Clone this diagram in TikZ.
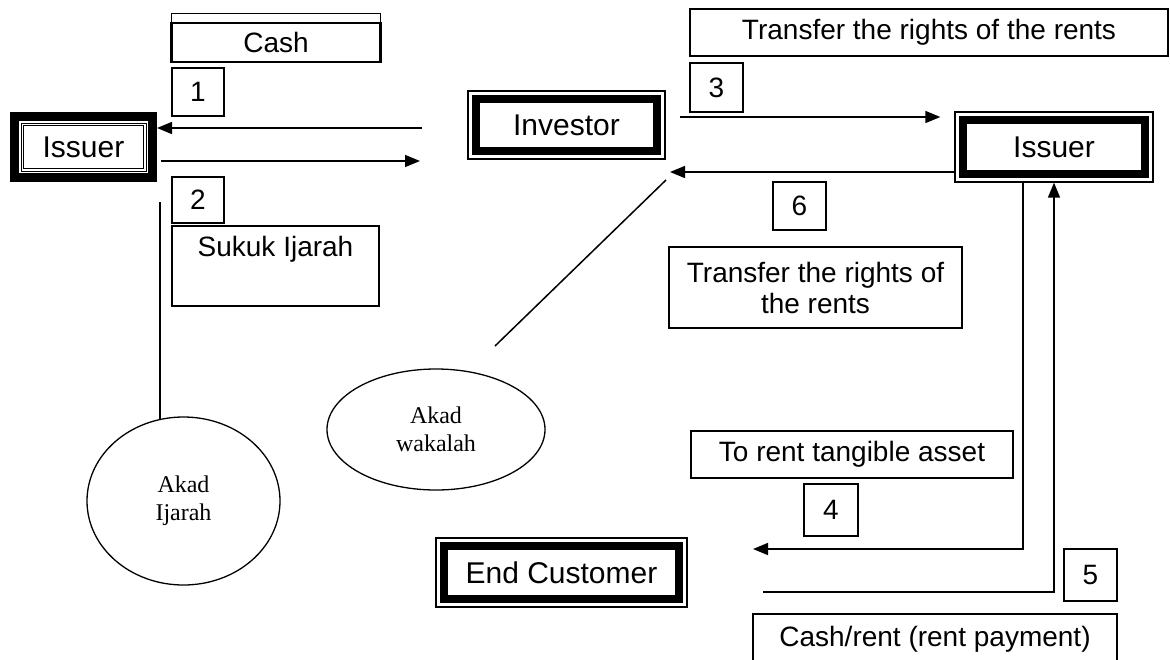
\documentclass[tikz,border=0pt]{standalone}
\usepackage{fontspec}
\setmainfont{Liberation Sans}
\newfontfamily\serifnr{Liberation Serif}
\usetikzlibrary{arrows.meta,shapes.geometric}
\newcommand\labsize{\fontsize{28}{31}\selectfont}
\newcommand\entsize{\fontsize{30}{34}\selectfont}
\newcommand\akadsize{\serifnr\fontsize{24}{28}\selectfont}
\begin{document}
\begin{tikzpicture}[x=1pt,y=-1pt,
  lbl/.style={draw, line width=1.3pt, inner sep=0pt, font=\labsize, align=center},
  entthin/.style={draw, line width=1.3pt, inner sep=0pt, font=\entsize,
    path picture={\draw[line width=8pt] ([shift={(8pt,-8pt)}]path picture bounding box.north west) rectangle ([shift={(-8pt,8pt)}]path picture bounding box.south east);}},
  entthick/.style={draw, line width=9pt, inner sep=0pt, font=\entsize,
    path picture={\draw[line width=0.9pt] ([shift={(6.5pt,-6.5pt)}]path picture bounding box.north west) rectangle ([shift={(-6.5pt,6.5pt)}]path picture bounding box.south east);
      \draw[line width=0.9pt] ([shift={(9pt,-9pt)}]path picture bounding box.north west) rectangle ([shift={(-9pt,9pt)}]path picture bounding box.south east);}},
  akad/.style={draw, ellipse, line width=1.3pt, inner sep=0pt, font=\akadsize, align=center},
  conn/.style={line width=1.5pt},
  arr/.style={conn, -{Triangle[length=15pt,width=12pt]}}
]
\useasboundingbox (0,0) rectangle (1170,659);
\clip (0,0) rectangle (1170,659);
\fill[white] (0,0) rectangle (1170,659);

% entities
\node[entthick, minimum width=138pt, minimum height=61pt] (lis) at (83.5,147) {Issuer};
\node[entthin, minimum width=197pt, minimum height=68pt] (inv) at (566.5,125) {Investor};
\node[entthin, minimum width=198pt, minimum height=70pt] (ris) at (1054,147) {Issuer};
\node[entthin, minimum width=251pt, minimum height=69pt] (endc) at (561.5,572.5) {End Customer};

% labels
\node[lbl, minimum width=208pt, minimum height=39pt] (cash) at (276,42.5) {Cash};
\draw[line width=1.3pt] ([yshift=9pt]cash.north west) rectangle (cash.south east);
\draw[line width=3pt] (cash.north west) -- (cash.south west);
\draw[line width=3pt] (cash.north east) -- (cash.south east);
\node[lbl, minimum width=52pt, minimum height=48pt] (n1) at (198,92) {1};
\node[lbl, minimum width=52pt, minimum height=46pt] (n2) at (198,200) {2};
\node[lbl, minimum width=207pt, minimum height=80pt] (suk) at (275.5,266) {Sukuk Ijarah\\\strut};
\node[lbl, minimum width=53pt, minimum height=49pt] (n3) at (716.5,87.5) {3};
\node[lbl, minimum width=478pt, minimum height=47pt] (tr1) at (929,32.5) {Transfer the rights of the rents};
\node[lbl, minimum width=53pt, minimum height=48pt] (n6) at (799.5,206) {6};
\node[lbl, minimum width=293pt, minimum height=81pt] (tr2) at (815.5,287.5) {Transfer the rights of\\the rents};
\node[lbl, minimum width=322pt, minimum height=47pt] (rent) at (852,454.5) {To rent tangible asset};
\node[lbl, minimum width=54pt, minimum height=52pt] (n4) at (831,510) {4};
\node[lbl, minimum width=53pt, minimum height=52pt] (n5) at (1090.5,575) {5};
\node[lbl, minimum width=364pt, minimum height=50pt] (pay) at (935,639) {Cash/rent (rent payment)};

% contracts
\node[akad, minimum width=193pt, minimum height=168pt] (ija) at (183.5,501) {Akad\\Ijarah};
\node[akad, minimum width=218pt, minimum height=121pt] (wak) at (436,429.5) {Akad\\wakalah};

% connectors
\coordinate (c1) at (422,128);
\draw[arr] (c1) -- (c1 -| lis.east);
\coordinate (c2) at (420,161);
\draw[arr, shorten <=4pt] (c2 -| lis.east) -- (c2);
\coordinate (c3) at (680,117);
\draw[arr, shorten >=14pt] (c3) -- (c3 -| ris.west);
\coordinate (c6) at (670,172);
\draw[arr] (c6 -| ris.west) -- (c6);
\coordinate (d1) at (666,180);
\coordinate (d2) at (495,346);
\draw[conn] (d1) -- (d2);
\coordinate (v1) at (160,202);
\draw[conn] (v1) -- (v1 |- ija.106);
\coordinate (c4) at (753,549);
\draw[arr] ([xshift=-31pt]ris.south) |- (c4);
\coordinate (c5) at (763,592);
\draw[arr] (c5) -| (ris.south);
\end{tikzpicture}
\end{document}
